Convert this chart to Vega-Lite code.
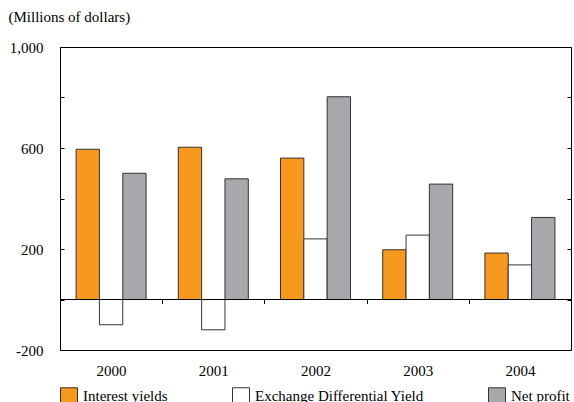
{
  "$schema": "https://vega.github.io/schema/vega-lite/v6.json",
  "width": 511,
  "height": 303,
  "autosize": {"type": "none"},
  "padding": {"left": 60, "top": 47, "right": 3, "bottom": 52},
  "background": "white",
  "config": {
    "view": {"stroke": "black", "strokeWidth": 1},
    "font": "Liberation Serif",
    "axis": {"labelFont": "Liberation Serif", "labelFontSize": 15, "labelColor": "black", "tickColor": "black", "grid": false},
    "legend": {"labelFont": "Liberation Serif", "labelFontSize": 15, "labelColor": "black", "labelLimit": 400}
  },
  "data": {
    "values": [
      {"year": "2000", "series": "Interest yields", "value": 595},
      {"year": "2000", "series": "Exchange Differential Yield", "value": -100},
      {"year": "2000", "series": "Net profit", "value": 500},
      {"year": "2001", "series": "Interest yields", "value": 603},
      {"year": "2001", "series": "Exchange Differential Yield", "value": -120},
      {"year": "2001", "series": "Net profit", "value": 478},
      {"year": "2002", "series": "Interest yields", "value": 560},
      {"year": "2002", "series": "Exchange Differential Yield", "value": 240},
      {"year": "2002", "series": "Net profit", "value": 803},
      {"year": "2003", "series": "Interest yields", "value": 197},
      {"year": "2003", "series": "Exchange Differential Yield", "value": 255},
      {"year": "2003", "series": "Net profit", "value": 457},
      {"year": "2004", "series": "Interest yields", "value": 184},
      {"year": "2004", "series": "Exchange Differential Yield", "value": 137},
      {"year": "2004", "series": "Net profit", "value": 325}
    ]
  },
  "layer": [
    {
      "mark": {"type": "bar", "stroke": "#333333", "strokeWidth": 1},
      "encoding": {
        "x": {
          "field": "year",
          "type": "nominal",
          "scale": {"paddingInner": 0, "paddingOuter": 0},
          "axis": {
            "title": null,
            "labelAngle": 0,
            "offset": -50.5,
            "domain": false,
            "ticks": true,
            "tickBand": "extent",
            "tickSize": 4,
            "labelPadding": 60
          }
        },
        "xOffset": {
          "field": "series",
          "type": "nominal",
          "sort": ["Interest yields", "Exchange Differential Yield", "Net profit"],
          "scale": {"paddingInner": 0, "paddingOuter": 0.69}
        },
        "y": {
          "field": "value",
          "type": "quantitative",
          "scale": {"domain": [-200, 1000], "nice": false},
          "axis": {
            "title": "(Millions of dollars)",
            "titleAngle": 0,
            "titleAlign": "left",
            "titleBaseline": "middle",
            "titleX": -52,
            "titleY": -31,
            "titleFont": "Liberation Serif",
            "titleFontSize": 15,
            "titleFontWeight": "normal",
            "titleColor": "black",
            "values": [-200, 0, 200, 400, 600, 800, 1000],
            "labelExpr": "(datum.value + 200) % 400 == 0 ? (datum.value < 0 ? '-' + format(-datum.value, ',') : format(datum.value, ',')) : ''",
            "tickSize": -4,
            "labelPadding": 21,
            "domain": false
          }
        },
        "color": {
          "field": "series",
          "type": "nominal",
          "sort": ["Interest yields", "Exchange Differential Yield", "Net profit"],
          "scale": {
            "domain": ["Interest yields", "Exchange Differential Yield", "Net profit"],
            "range": ["#F7991E", "#FFFFFF", "#A7A8AC"]
          },
          "legend": {
            "title": null,
            "orient": "bottom",
            "direction": "horizontal",
            "symbolType": "square",
            "symbolSize": 289,
            "symbolStrokeColor": "#333333",
            "symbolStrokeWidth": 1,
            "symbolOpacity": 1,
            "columnPadding": 62,
            "labelOffset": 5,
            "labelLimit": 400,
            "offset": 8,
            "padding": 0
          }
        }
      }
    },
    {
      "mark": {"type": "rule", "color": "black", "strokeWidth": 1},
      "encoding": {
        "y": {
          "datum": 0,
          "type": "quantitative",
          "axis": {
            "orient": "right",
            "title": null,
            "labels": false,
            "values": [-200, 0, 200, 400, 600, 800, 1000],
            "tickSize": -4,
            "domain": false
          }
        }
      }
    }
  ],
  "resolve": {"axis": {"y": "independent"}}
}
